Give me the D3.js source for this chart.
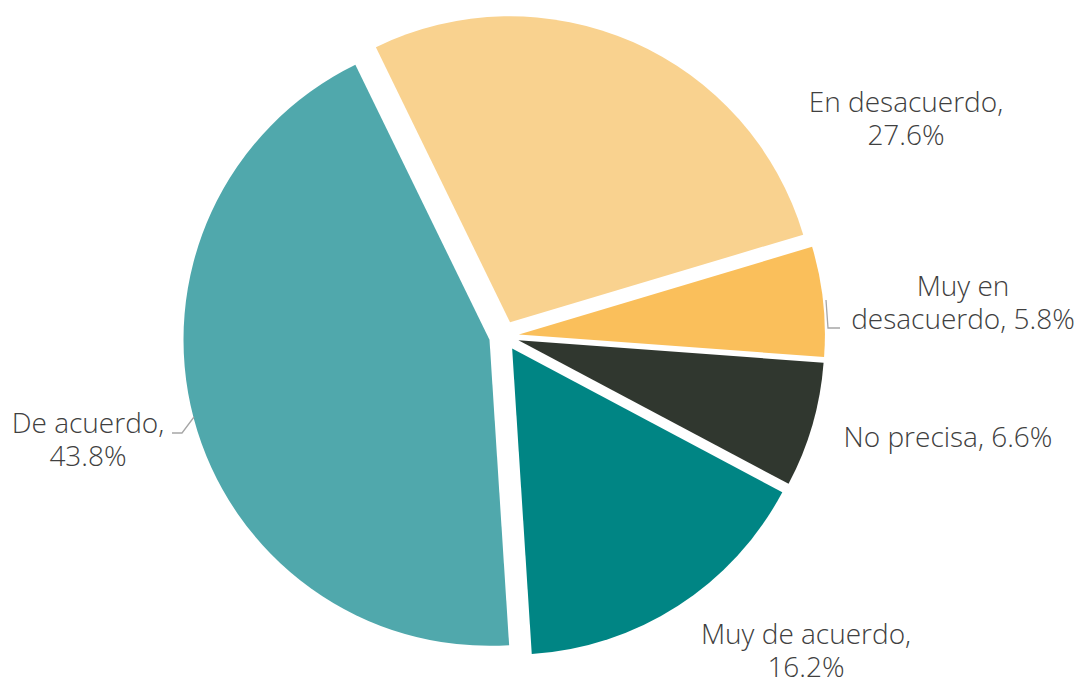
<!DOCTYPE html>
<html>
<head>
<meta charset="utf-8">
<script src="https://cdn.jsdelivr.net/npm/d3@7"></script>
<style>
  html, body { margin: 0; padding: 0; background: #fff; }
  svg { display: block; }
  .lbl { font-family: "Open Sans", Lato, sans-serif; font-size: 28px; font-weight: 300; fill: #404040; }
</style>
</head>
<body>
<svg id="chart" width="1080" height="684"></svg>
<script>
// data
var categories = ["En desacuerdo", "Muy en desacuerdo", "No precisa", "Muy de acuerdo", "De acuerdo"];
var values = [27.6, 5.8, 6.6, 16.2, 43.8];
var colors = ["#F9D28F", "#FABF5B", "#30372F", "#008584", "#50A8AC"];

// where each label sits and how it wraps (layout only)
var labelLines = [
  [0, 1], // break after the comma
  [1, 1],
  [0, 0],
  [0, 1],
  [0, 1]
];
var labelPos = [
  {x: 906, y: 112},
  {x: 963, y: 296},
  {x: 948, y: 447},
  {x: 806, y: 644},
  {x: 88,  y: 433}
];
var leaders = {
  1: [[840, 328], [828, 328], [826, 300]],
  4: [[172, 433], [182, 433], [194, 417]]
};

var svg = d3.select("#chart");
var cx = 504, cy = 336, R = 306, explode = 15;
var lineH = 33;

var pie = d3.pie().sort(null)
  .startAngle(-26 * Math.PI / 180)
  .endAngle((360 - 26) * Math.PI / 180);
var arc = d3.arc().innerRadius(0).outerRadius(R);

var data = values.map(function(v, i) { return {name: categories[i], value: v, color: colors[i], i: i}; });
var arcs = pie.value(function(d) { return d.value; })(data);

var g = svg.append("g").attr("transform", "translate(" + cx + "," + cy + ")");

g.selectAll("path.slice").data(arcs)
  .enter().append("path")
  .attr("class", "slice")
  .attr("d", arc)
  .attr("fill", function(d) { return d.data.color; })
  .attr("transform", function(d) {
    var mid = (d.startAngle + d.endAngle) / 2;
    return "translate(" + (Math.sin(mid) * explode) + "," + (-Math.cos(mid) * explode) + ")";
  });

// leader lines
Object.keys(leaders).forEach(function(k) {
  svg.append("path")
    .attr("d", d3.line()(leaders[k]))
    .attr("fill", "none")
    .attr("stroke", "#A6A6A6")
    .attr("stroke-width", 1.3);
});

// labels
arcs.forEach(function(d, i) {
  var txt = d.data.name + ", " + d.data.value.toFixed(1) + "%";
  var lines;
  if (i == 1) lines = ["Muy en", "desacuerdo, " + d.data.value.toFixed(1) + "%"];
  else if (labelLines[i][1]) lines = [d.data.name + ",", d.data.value.toFixed(1) + "%"];
  else lines = [txt];

  var p = labelPos[i];
  var t = svg.append("text")
    .attr("class", "lbl")
    .attr("text-anchor", "middle");
  lines.forEach(function(s, j) {
    t.append("tspan").attr("x", p.x).attr("y", p.y + j * lineH).text(s);
  });
});
</script>
</body>
</html>
